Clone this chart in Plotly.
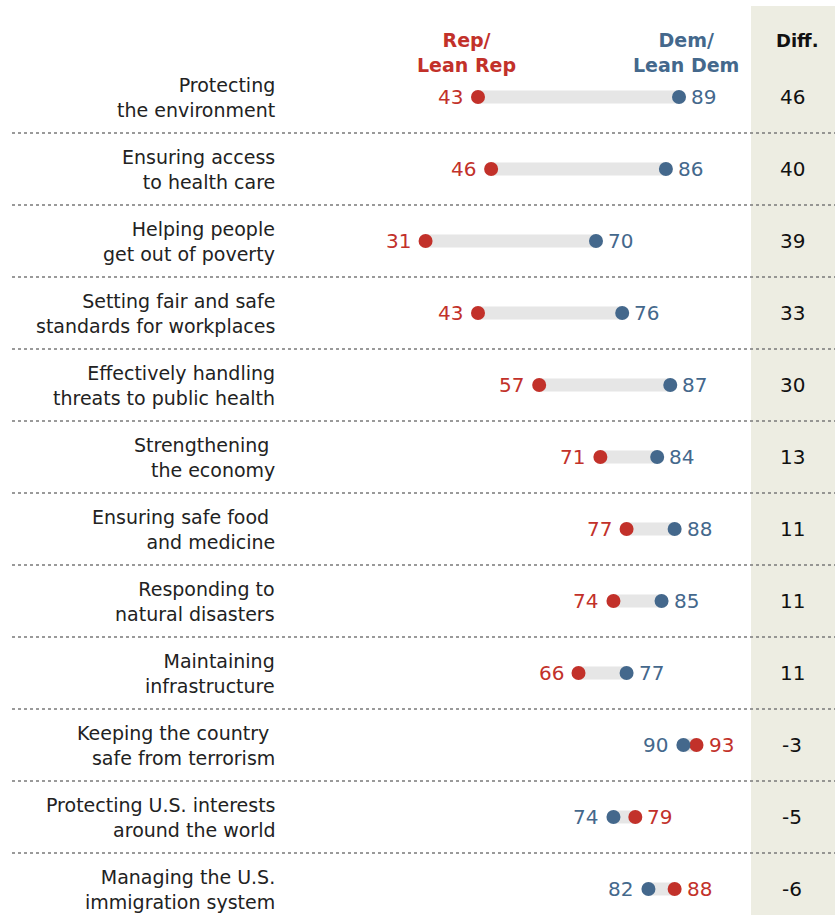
import plotly.graph_objects as go

# Share of each party saying the federal government does a good job ...
categories = [
    "Protecting<br>the environment",
    "Ensuring access<br>to health care",
    "Helping people<br>get out of poverty",
    "Setting fair and safe<br>standards for workplaces",
    "Effectively handling<br>threats to public health",
    "Strengthening <br>the economy",
    "Ensuring safe food <br>and medicine",
    "Responding to<br>natural disasters",
    "Maintaining<br>infrastructure",
    "Keeping the country <br>safe from terrorism",
    "Protecting U.S. interests<br>around the world",
    "Managing the U.S.<br>immigration system",
]
rep_values = [43, 46, 31, 43, 57, 71, 77, 74, 66, 93, 79, 88]
dem_values = [89, 86, 70, 76, 87, 84, 88, 85, 77, 90, 74, 82]
diff_values = [d - r for d, r in zip(dem_values, rep_values)]

RED = "#C2312A"
BLUE = "#44688C"
BAR = "#E6E6E6"
BAND = "#EDEDE2"
FONT = "DejaVu Sans"

W, H = 835, 915
fig = go.Figure()

rows = list(range(len(categories)))

# connecting bars
for i, (r, d) in enumerate(zip(rep_values, dem_values)):
    fig.add_trace(go.Scatter(
        x=[r, d], y=[i, i], mode="lines",
        line=dict(color=BAR, width=13), hoverinfo="skip", showlegend=False,
    ))

fig.add_trace(go.Scatter(
    x=rep_values, y=rows, mode="markers",
    marker=dict(color=RED, size=14), name="Rep/Lean Rep", showlegend=False,
))
fig.add_trace(go.Scatter(
    x=dem_values, y=rows, mode="markers",
    marker=dict(color=BLUE, size=14), name="Dem/Lean Dem", showlegend=False,
))

annotations = []
num_font = dict(family=FONT, size=20)
for i, (r, d) in enumerate(zip(rep_values, dem_values)):
    low_val, high_val = (r, d) if r <= d else (d, r)
    low_col, high_col = (RED, BLUE) if r <= d else (BLUE, RED)
    annotations.append(dict(
        x=low_val, y=i, xref="x", yref="y", text=str(low_val),
        xanchor="right", yanchor="middle", xshift=-13, showarrow=False,
        font=dict(num_font, color=low_col),
    ))
    annotations.append(dict(
        x=high_val, y=i, xref="x", yref="y", text=str(high_val),
        xanchor="left", yanchor="middle", xshift=10, showarrow=False,
        font=dict(num_font, color=high_col),
    ))
    # category label
    annotations.append(dict(
        x=277 / W, y=i, xref="paper", yref="y", text=categories[i],
        xanchor="right", yanchor="middle", align="right", showarrow=False,
        font=dict(family=FONT, size=19, color="#222222"),
    ))
    # difference column
    annotations.append(dict(
        x=792 / W, y=i, xref="paper", yref="y", text=str(diff_values[i]),
        xanchor="center", yanchor="middle", showarrow=False,
        font=dict(family=FONT, size=20, color="#111111"),
    ))

# column headers
head_y = 1 - 52 / H
annotations += [
    dict(x=466 / W, y=head_y, xref="paper", yref="paper",
         text="<b>Rep/<br>Lean Rep</b>", showarrow=False,
         xanchor="center", yanchor="middle", align="center",
         font=dict(family=FONT, size=19, color=RED)),
    dict(x=686 / W, y=head_y, xref="paper", yref="paper",
         text="<b>Dem/<br>Lean Dem</b>", showarrow=False,
         xanchor="center", yanchor="middle", align="center",
         font=dict(family=FONT, size=19, color=BLUE)),
    dict(x=797 / W, y=1 - 40 / H, xref="paper", yref="paper",
         text="<b>Diff.</b>", showarrow=False,
         xanchor="center", yanchor="middle",
         font=dict(family=FONT, size=18, color="#111111")),
]

shapes = [
    dict(type="rect", xref="paper", yref="paper", x0=751 / W, x1=1,
         y0=0, y1=1 - 6 / H, fillcolor=BAND, line=dict(width=0), layer="below"),
]
for i in range(len(categories) - 1):
    shapes.append(dict(
        type="line", xref="paper", yref="y", x0=12 / W, x1=1,
        y0=i + 0.5, y1=i + 0.5,
        line=dict(color="#7A7A7A", width=1.5, dash="3px,3px"),
    ))

# pixel-based ranges: value 43 sits at x=478 px, 4.37 px per point
px_per = 4.37
x0 = 43 - 478 / px_per
x1 = x0 + W / px_per
row_px = 72
y_top = -97 / row_px
y_bot = (H - 97) / row_px

fig.update_layout(
    width=W, height=H,
    margin=dict(l=0, r=0, t=0, b=0),
    paper_bgcolor="white", plot_bgcolor="rgba(0,0,0,0)",
    xaxis=dict(range=[x0, x1], visible=False, fixedrange=True),
    yaxis=dict(range=[y_bot, y_top], visible=False, fixedrange=True),
    annotations=annotations, shapes=shapes, showlegend=False,
)

fig.write_html("out.html")
